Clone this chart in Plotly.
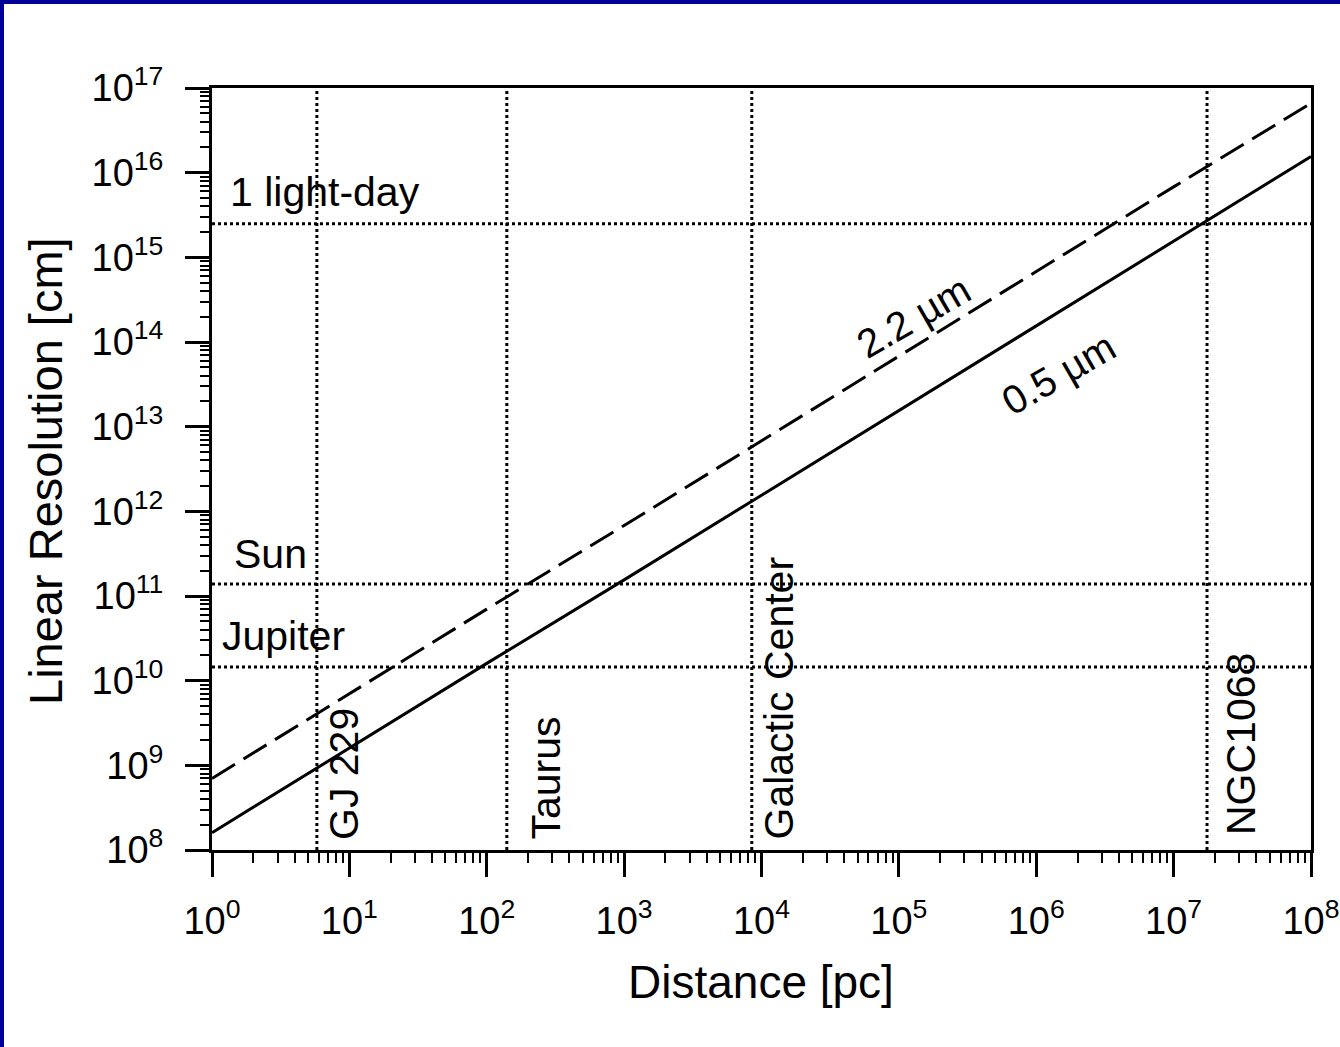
import math
import plotly.graph_objects as go

# ---------------- data ----------------
distance_pc = [1e0, 1e1, 1e2, 1e3, 1e4, 1e5, 1e6, 1e7, 1e8]
res_05um_cm = [1.6e8, 1.6e9, 1.6e10, 1.55e11, 1.55e12, 1.55e13, 1.55e14, 1.55e15, 1.55e16]
res_22um_cm = [7.0e8, 7.0e9, 7.0e10, 6.8e11, 6.8e12, 6.8e13, 6.8e14, 6.8e15, 6.6e16]

object_names = ["GJ 229", "Taurus", "Galactic Center", "NGC1068"]
object_dist_pc = [5.8, 140, 8500, 1.75e7]

size_names = ["1 light-day", "Sun", "Jupiter"]
size_cm = [2.5e15, 1.39e11, 1.45e10]

line_labels = ["2.2 µm", "0.5 µm"]

x_exponents = list(range(0, 9))
y_exponents = list(range(8, 18))
x_ticktext = [f"10<sup>{e}</sup>" for e in x_exponents]
y_ticktext = [f"10<sup>{e}</sup>" for e in y_exponents]

# ---------------- layout geometry ----------------
W, H = 1340, 1047
L, R, T, B = 212, 29, 88, 197
PW, PH = W - L - R, H - T - B


def px(x):
    return (x - L) / PW


def py(y):
    return (H - B - y) / PH


FONT = "Liberation Sans, Arial, Helvetica, sans-serif"
BLACK = "black"

fig = go.Figure()

# reference dotted lines
for d in object_dist_pc:
    fig.add_trace(go.Scatter(x=[d, d], y=[10 ** y_exponents[0], 10 ** y_exponents[-1]],
                             mode="lines", line=dict(color=BLACK, width=3, dash="dot"),
                             showlegend=False, hoverinfo="skip"))
for s in size_cm:
    fig.add_trace(go.Scatter(x=[10 ** x_exponents[0], 10 ** x_exponents[-1]], y=[s, s],
                             mode="lines", line=dict(color=BLACK, width=3, dash="dot"),
                             showlegend=False, hoverinfo="skip"))

# resolution curves
fig.add_trace(go.Scatter(x=distance_pc, y=res_22um_cm, mode="lines",
                         line=dict(color=BLACK, width=3, dash="27px,10px"),
                         showlegend=False, name="2.2 µm"))
fig.add_trace(go.Scatter(x=distance_pc, y=res_05um_cm, mode="lines",
                         line=dict(color=BLACK, width=3),
                         showlegend=False, name="0.5 µm"))

minor_x = [m * 10 ** e for e in x_exponents[:-1] for m in range(2, 10)]
minor_y = [m * 10 ** e for e in y_exponents[:-1] for m in range(2, 10)]

fig.update_xaxes(type="log", range=[x_exponents[0], x_exponents[-1]],
                 showline=True, linecolor=BLACK, linewidth=3, mirror=True,
                 showgrid=False, zeroline=False,
                 tickmode="array", tickvals=[10 ** e for e in x_exponents], ticktext=x_ticktext,
                 ticks="outside", ticklen=24, tickwidth=3, tickcolor=BLACK,
                 ticklabelstandoff=11,
                 tickfont=dict(family=FONT, size=38, color=BLACK),
                 minor=dict(tickmode="array", tickvals=minor_x, ticks="outside",
                            ticklen=10, tickwidth=2, tickcolor=BLACK, showgrid=False))
fig.update_yaxes(type="log", range=[y_exponents[0], y_exponents[-1]],
                 showline=True, linecolor=BLACK, linewidth=3, mirror=True,
                 showgrid=False, zeroline=False,
                 tickmode="array", tickvals=[10 ** e for e in y_exponents], ticktext=y_ticktext,
                 ticks="outside", ticklen=24, tickwidth=3, tickcolor=BLACK,
                 ticklabelstandoff=14,
                 tickfont=dict(family=FONT, size=38, color=BLACK),
                 minor=dict(tickmode="array", tickvals=minor_y, ticks="outside",
                            ticklen=9, tickwidth=2, tickcolor=BLACK, showgrid=False))

ann = []
# axis titles
ann.append(dict(text="Distance [pc]", xref="paper", yref="paper", x=px(761), y=py(982),
                xanchor="center", yanchor="middle", showarrow=False,
                font=dict(family=FONT, size=46, color=BLACK)))
ann.append(dict(text="Linear Resolution [cm]", xref="paper", yref="paper", x=px(45), y=py(471),
                xanchor="center", yanchor="middle", textangle=-90, showarrow=False,
                font=dict(family=FONT, size=47, color=BLACK)))

# horizontal size labels
size_label_pos = [(228, 192), (232, 554), (220, 636)]
for name, (lx, ly) in zip(size_names, size_label_pos):
    ann.append(dict(text=name, xref="paper", yref="paper", x=px(lx), y=py(ly),
                    xanchor="left", yanchor="middle", showarrow=False,
                    font=dict(family=FONT, size=41, color=BLACK)))

# vertical object labels
obj_label_pos = [(344, 842), (545, 842), (778, 842), (1241, 837)]
for name, (lx, ly) in zip(object_names, obj_label_pos):
    ann.append(dict(text=name, xref="paper", yref="paper", x=px(lx), y=py(ly),
                    xanchor="center", yanchor="bottom", textangle=-90, showarrow=False,
                    font=dict(family=FONT, size=41, color=BLACK)))

# slanted curve labels
curve_label_pos = [(913, 317), (1058, 374)]
for name, (lx, ly) in zip(line_labels, curve_label_pos):
    ann.append(dict(text=name, xref="paper", yref="paper", x=px(lx), y=py(ly),
                    xanchor="center", yanchor="middle", textangle=-30, showarrow=False,
                    font=dict(family=FONT, size=40, color=BLACK)))

# blue frame (top and left edges of the slide)
BLUE = "#000099"
shapes = [
    dict(type="rect", xref="paper", yref="paper", x0=px(0), x1=px(4), y0=py(H), y1=py(0),
         fillcolor=BLUE, line=dict(width=0), layer="above"),
    dict(type="rect", xref="paper", yref="paper", x0=px(0), x1=px(W), y0=py(4), y1=py(0),
         fillcolor=BLUE, line=dict(width=0), layer="above"),
]

fig.update_layout(width=W, height=H, margin=dict(l=L, r=R, t=T, b=B, autoexpand=False),
                  paper_bgcolor="white", plot_bgcolor="white",
                  annotations=ann, shapes=shapes, showlegend=False,
                  font=dict(family=FONT, color=BLACK))

fig.write_html("out.html", config={"displayModeBar": False},
               post_script="document.body.style.margin='0';document.body.style.overflow='hidden';")
